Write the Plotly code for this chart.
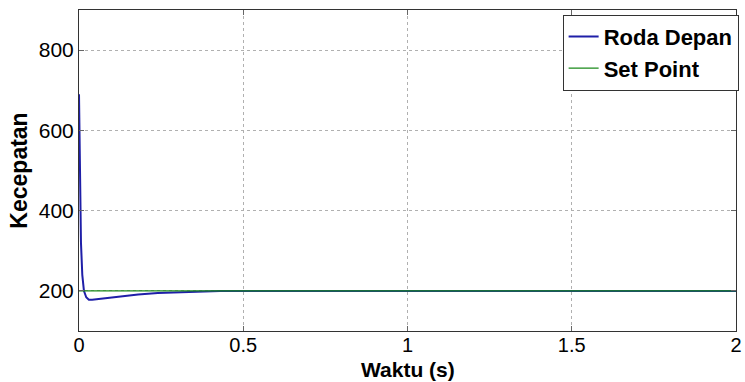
import plotly.graph_objects as go

# Data
time_roda = [0, 0.001, 0.003, 0.006, 0.01, 0.015, 0.022, 0.03, 0.04, 0.06, 0.09, 0.13, 0.18, 0.24, 0.3, 0.36, 0.43, 0.5, 2.0]
speed_roda = [690, 600, 450, 320, 240, 200, 184, 178, 178, 180, 183, 187, 191, 195, 197, 198.5, 199.5, 200, 200]
time_sp = [0, 2.0]
speed_sp = [200, 200]

x_ticks = [0, 0.5, 1, 1.5, 2]
x_labels = ["0", "0.5", "1", "1.5", "2"]
y_ticks = [200, 400, 600, 800]
y_labels = ["200", "400", "600", "800"]

FONT = "Liberation Sans, Arial, sans-serif"

fig = go.Figure()
fig.add_trace(go.Scatter(x=time_roda, y=speed_roda, mode="lines", name="<b>Roda Depan</b>",
                         line=dict(color="#1f1fa8", width=2)))
fig.add_trace(go.Scatter(x=time_sp, y=speed_sp, mode="lines", name="<b>Set Point</b>",
                         line=dict(color="#1a8a1a", width=1.2)))

axis_common = dict(showline=True, linecolor="#333333", linewidth=1, mirror="ticks",
                   ticks="inside", ticklen=5, tickcolor="#666666",
                   showgrid=True, gridcolor="#b0b0b0", griddash="dot", gridwidth=1,
                   zeroline=False, automargin=False)

fig.update_xaxes(range=[0, 2], tickvals=x_ticks, ticktext=x_labels,
                 tickfont=dict(family=FONT, size=20, color="black"),
                 ticklabelstandoff=-4,
                 **axis_common)
fig.update_yaxes(range=[100, 900], tickvals=y_ticks, ticktext=y_labels,
                 tickfont=dict(family=FONT, size=21, color="black"),
                 title=dict(text="<b>Kecepatan</b>", font=dict(family=FONT, size=23, color="black"), standoff=4),
                 **axis_common)

fig.update_layout(
    width=745, height=382,
    margin=dict(l=79, r=6, t=10, b=51),
    plot_bgcolor="white", paper_bgcolor="white",
    font=dict(family=FONT, color="black"),
    legend=dict(x=1.004, y=0.985, xanchor="right", yanchor="top",
                bgcolor="white", bordercolor="#333333", borderwidth=1,
                font=dict(family=FONT, size=22, color="black"),
                tracegroupgap=0, itemwidth=30),
    showlegend=True,
    annotations=[dict(text="<b>Waktu (s)</b>", xref="paper", yref="paper",
                      x=0.5, y=-52 / 321, xanchor="center", yanchor="bottom",
                      showarrow=False, font=dict(family=FONT, size=21, color="black"))],
)

fig.write_html("out.html")
